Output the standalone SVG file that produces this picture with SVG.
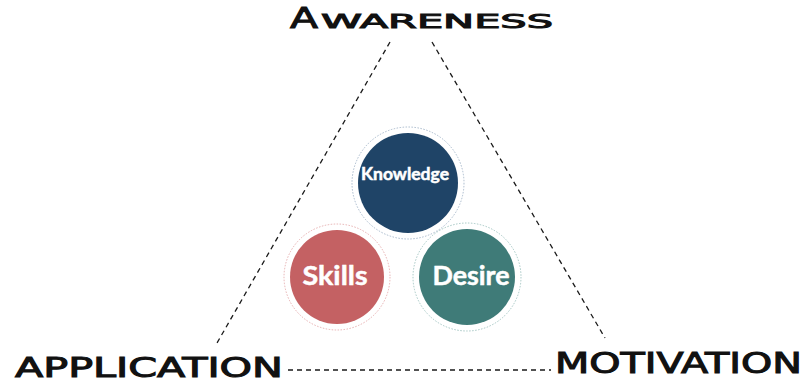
<svg xmlns="http://www.w3.org/2000/svg" width="808" height="383" viewBox="0 0 808 383">
<style>
.edge{fill:none;stroke:#1a1a1a;stroke-width:1.3;stroke-dasharray:5 4}
.ring{fill:none;stroke-width:0.9;stroke-dasharray:1.5 1.5}
.lbl{font-family:"DejaVu Sans",sans-serif;font-weight:normal;fill:#111;stroke:#111;stroke-width:1}
.in{font-family:Lato,"Liberation Sans",sans-serif;font-weight:bold;fill:#fff;stroke:#fff;stroke-width:0.5;text-anchor:middle}
</style>
<rect width="808" height="383" fill="#fff"/>
<g id="connectors">
<line class="edge" x1="390" y1="42" x2="217" y2="343"/>
<line class="edge" x1="432" y1="42" x2="605" y2="338"/>
<line class="edge" x1="288" y1="370" x2="551" y2="370"/>
</g>
<g id="awareness">
<text class="lbl" x="290" y="28" font-size="29" textLength="28" lengthAdjust="spacingAndGlyphs">A</text>
<text class="lbl" x="321" y="28" font-size="20" textLength="232" lengthAdjust="spacingAndGlyphs">WARENESS</text>
</g>
<g id="application">
<text class="lbl" x="15" y="377" font-size="26.5" textLength="268" lengthAdjust="spacingAndGlyphs">APPLICATION</text>
</g>
<g id="motivation">
<text class="lbl" x="555" y="373" font-size="27.5" textLength="247" lengthAdjust="spacingAndGlyphs">MOTIVATION</text>
</g>
<g id="knowledge">
<circle class="ring" cx="408" cy="183" r="56" stroke="#9fb2c6"/>
<circle cx="408" cy="183" r="50" fill="#1f4467"/>
<text class="in" x="405" y="180" font-size="16.5" textLength="88" lengthAdjust="spacingAndGlyphs">Knowledge</text>
</g>
<g id="skills">
<circle class="ring" cx="337" cy="277" r="53" stroke="#e3a7a8"/>
<circle cx="337" cy="277" r="47" fill="#c46163"/>
<text class="in" x="335" y="285" font-size="27" textLength="65" lengthAdjust="spacingAndGlyphs">Skills</text>
</g>
<g id="desire">
<circle class="ring" cx="467" cy="277" r="54" stroke="#9cc1bd"/>
<circle cx="467" cy="277" r="48" fill="#3f7b78"/>
<text class="in" x="471" y="285" font-size="27" textLength="77" lengthAdjust="spacingAndGlyphs">Desire</text>
</g>
</svg>
